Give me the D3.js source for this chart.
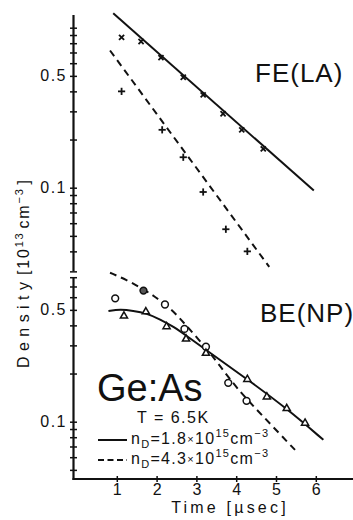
<!DOCTYPE html>
<html>
<head>
<meta charset="utf-8">
<script src="https://cdn.jsdelivr.net/npm/d3@7"></script>
<style>
  html, body { margin: 0; padding: 0; background: #fff; }
  svg text { font-family: "Liberation Sans", Arial, sans-serif; fill: #111; }
</style>
</head>
<body>
<svg id="chart" width="353" height="520"></svg>
<script>
// ---- data ----
// FE(LA), upper panel
const feLowT = [1.12, 1.61, 2.11, 2.67, 3.17, 3.67, 4.14, 4.68];
const feLowV = [0.87, 0.82, 0.65, 0.49, 0.38, 0.29, 0.23, 0.175];
const feHighT = [1.12, 2.14, 2.67, 3.17, 3.74, 4.28];
const feHighV = [0.40, 0.23, 0.155, 0.094, 0.055, 0.040];
const feFitLowT = [0.91, 5.95];
const feFitLowV = [1.23, 0.096];
const feFitHighT = [0.83, 4.83];
const feFitHighV = [0.72, 0.032];

// BE(NP), lower panel
const beCircT = [0.96, 1.67, 2.21, 2.70, 3.24, 3.80, 4.26];
const beCircV = [0.59, 0.66, 0.54, 0.38, 0.294, 0.175, 0.135];
const beTriT = [1.18, 1.73, 2.25, 2.74, 3.24, 4.28, 4.77, 5.27, 5.73];
const beTriV = [0.458, 0.487, 0.393, 0.329, 0.268, 0.184, 0.143, 0.121, 0.098];
const beFitLowT = [0.79, 1.08, 1.41, 1.75, 2.09, 2.42, 2.76, 3.24, 4.28, 5.27, 6.19];
const beFitLowV = [0.492, 0.504, 0.494, 0.476, 0.436, 0.393, 0.343, 0.281, 0.184, 0.121, 0.077];
const beFitHighT = [0.83, 1.25, 1.63, 1.96, 2.25, 2.55, 2.80, 3.24, 3.59, 4.01, 4.60, 5.56];
const beFitHighV = [0.853, 0.769, 0.682, 0.604, 0.536, 0.453, 0.385, 0.29, 0.224, 0.162, 0.113, 0.0634];

const xTicks = [1, 2, 3, 4, 5, 6];
const topTicks = [0.03, 0.04, 0.05, 0.06, 0.07, 0.08, 0.09, 0.1, 0.2, 0.3, 0.4, 0.5, 0.6, 0.7, 0.8, 0.9, 1.0];
const botTicks = [0.05, 0.06, 0.07, 0.08, 0.09, 0.1, 0.2, 0.3, 0.4, 0.5, 0.6, 0.7, 0.8];
const yLabelled = [0.1, 0.5];

const zip = (a, b) => a.map((d, i) => [d, b[i]]);

// ---- scales ----
const x = d3.scaleLinear().domain([0, 6]).range([77, 315.8]);
const yTop = d3.scaleLog().domain([0.1, 1]).range([187.7, 27.7]);
const yBot = d3.scaleLog().domain([0.1, 1]).range([421.7, 261.7]);
const axisX = 73.5, baseY = 479;

const svg = d3.select('#chart');
const ink = '#111';

// ---- axes ----
svg.append('line').attr('x1', axisX).attr('x2', axisX)
  .attr('y1', yTop(1.2)).attr('y2', yTop(0.03))
  .attr('stroke', ink).attr('stroke-width', 2.2);
svg.append('line').attr('x1', axisX).attr('x2', axisX)
  .attr('y1', yBot(0.8)).attr('y2', baseY + 1)
  .attr('stroke', ink).attr('stroke-width', 2.2);
svg.append('line').attr('x1', axisX - 1).attr('x2', 353)
  .attr('y1', baseY).attr('y2', baseY)
  .attr('stroke', ink).attr('stroke-width', 2.2);

const fmtY = d => yLabelled.includes(d) ? String(d) : '';

function yAxis(scale, ticks) {
  const g = svg.append('g').attr('transform', `translate(${axisX},0)`)
    .call(d3.axisLeft(scale).tickValues(ticks).tickSize(3.5).tickPadding(3).tickFormat(fmtY));
  g.select('.domain').remove();
  g.selectAll('.tick line').attr('x1', 3.5).attr('stroke', ink).attr('stroke-width', 1.5);
  g.selectAll('.tick text').attr('font-size', 16).attr('letter-spacing', 1.5)
    .attr('font-family', '"Liberation Sans", Arial, sans-serif').attr('fill', ink);
}
yAxis(yTop, topTicks);
yAxis(yBot, botTicks);

const gx = svg.append('g').attr('transform', `translate(0,${baseY})`)
  .call(d3.axisBottom(x).tickValues(xTicks).tickSize(3).tickPadding(2).tickFormat(d3.format('d')));
gx.select('.domain').remove();
gx.selectAll('.tick line').attr('y1', -3).attr('stroke', ink).attr('stroke-width', 1.5);
gx.selectAll('.tick text').attr('font-size', 16)
  .attr('font-family', '"Liberation Sans", Arial, sans-serif').attr('fill', ink);

// axis titles
svg.append('text').attr('x', 230).attr('y', 513).attr('text-anchor', 'middle')
  .attr('font-size', 16).attr('letter-spacing', 3.2).text('Time [\u00b5sec]');

svg.append('text').attr('transform', 'translate(29,368) rotate(-90)')
  .attr('font-size', 16).attr('textLength', 86).attr('lengthAdjust', 'spacing')
  .text('Density');
const yl = svg.append('text')
  .attr('transform', 'translate(29,275) rotate(-90)')
  .attr('font-size', 16).attr('letter-spacing', 1.8);
yl.append('tspan').text('[10');
yl.append('tspan').attr('dy', -6).attr('font-size', 11).text('13');
yl.append('tspan').attr('dy', 6).attr('dx', 3).text('cm');
yl.append('tspan').attr('dy', -6).attr('font-size', 11).text('\u22123');
yl.append('tspan').attr('dy', 6).attr('dx', 3).text(']');

// ---- lines ----
function curve(ts, vs, y, dashed, smooth) {
  const gen = d3.line().x(d => x(d[0])).y(d => y(d[1]))
    .curve(smooth ? d3.curveBasis : d3.curveLinear);
  svg.append('path').datum(zip(ts, vs)).attr('d', gen)
    .attr('fill', 'none').attr('stroke', ink).attr('stroke-width', 2)
    .attr('stroke-dasharray', dashed ? '7,5' : null);
}
curve(feFitLowT, feFitLowV, yTop, false, false);
curve(feFitHighT, feFitHighV, yTop, true, false);
curve(beFitLowT, beFitLowV, yBot, false, true);
curve(beFitHighT, beFitHighV, yBot, true, true);

// ---- markers ----
function crosses(ts, vs, y, diag) {
  const s = 3.6;
  const g = svg.append('g').selectAll('g').data(zip(ts, vs)).join('g')
    .attr('transform', d => `translate(${x(d[0])},${y(d[1])})${diag ? ' rotate(45)' : ''}`);
  g.append('line').attr('x1', -s).attr('x2', s).attr('stroke', ink).attr('stroke-width', 1.8);
  g.append('line').attr('y1', -s).attr('y2', s).attr('stroke', ink).attr('stroke-width', 1.8);
}
crosses(feLowT, feLowV, yTop, true);
crosses(feHighT, feHighV, yTop, false);

svg.append('g').selectAll('circle').data(zip(beCircT, beCircV)).join('circle')
  .attr('cx', d => x(d[0])).attr('cy', d => yBot(d[1])).attr('r', 3.4)
  .attr('fill', (d, i) => i === 1 ? '#555' : '#fff').attr('stroke', ink).attr('stroke-width', 1.5);

svg.append('g').selectAll('path').data(zip(beTriT, beTriV)).join('path')
  .attr('d', d3.symbol(d3.symbolTriangle, 22))
  .attr('transform', d => `translate(${x(d[0])},${yBot(d[1])})`)
  .attr('fill', '#fff').attr('stroke', ink).attr('stroke-width', 1.5);

// ---- labels ----
svg.append('text').attr('x', 255).attr('y', 82).attr('font-size', 26)
  .attr('letter-spacing', 1).text('FE(LA)');
svg.append('text').attr('x', 260).attr('y', 322).attr('font-size', 26)
  .attr('letter-spacing', 1).text('BE(NP)');
svg.append('text').attr('x', 97).attr('y', 401).attr('font-size', 38).text('Ge:As');
svg.append('text').attr('x', 137).attr('y', 423).attr('font-size', 16)
  .attr('letter-spacing', 1.5).text('T = 6.5K');

function legendRow(yy, dashed, nd) {
  svg.append('line').attr('x1', 98).attr('x2', 127).attr('y1', yy - 4).attr('y2', yy - 4)
    .attr('stroke', ink).attr('stroke-width', 2).attr('stroke-dasharray', dashed ? '6,3.5' : null);
  const t = svg.append('text').attr('x', 131).attr('y', yy).attr('font-size', 16).attr('letter-spacing', 1.3);
  t.append('tspan').text('n');
  t.append('tspan').attr('dy', 4).attr('font-size', 11).text('D');
  t.append('tspan').attr('dy', -4).text('=' + nd);
  t.append('tspan').attr('font-size', 11).attr('dy', -1).text('\u00d7');
  t.append('tspan').attr('dy', 1).text('10');
  t.append('tspan').attr('dy', -7).attr('font-size', 11).text('15');
  t.append('tspan').attr('dy', 7).text('cm');
  t.append('tspan').attr('dy', -7).attr('font-size', 11).text('\u22123');
}
legendRow(444, false, '1.8');
legendRow(464, true, '4.3');
</script>
</body>
</html>
